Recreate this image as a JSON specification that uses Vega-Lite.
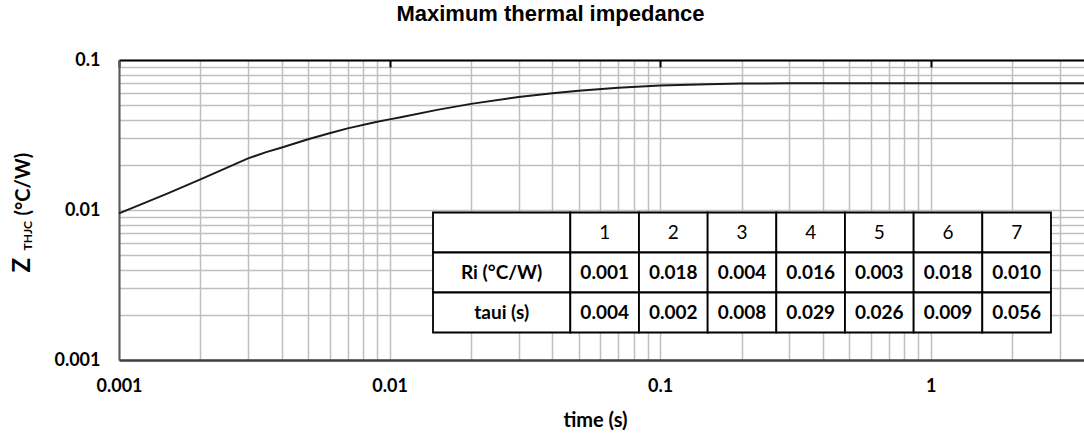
{
  "$schema": "https://vega.github.io/schema/vega-lite/v6.json",
  "width": 965,
  "height": 300,
  "autosize": {"type": "none"},
  "padding": {"left": 119, "top": 60, "right": 0, "bottom": 78},
  "background": "white",
  "config": {"view": {"stroke": null}, "font": "Lato"},
  "title": {"text": "Maximum thermal impedance", "font": "Liberation Sans", "fontSize": 22, "fontWeight": "bold", "color": "#000000", "anchor": "middle", "frame": "group", "dx": -51, "offset": 8, "baseline": "alphabetic"},
  "datasets": {
    "curve": [
      {"t": 0.001, "z": 0.0095},
      {"t": 0.0015, "z": 0.0128},
      {"t": 0.002, "z": 0.0160},
      {"t": 0.003, "z": 0.0221},
      {"t": 0.0035, "z": 0.0243},
      {"t": 0.004, "z": 0.0261},
      {"t": 0.005, "z": 0.0296},
      {"t": 0.006, "z": 0.0325},
      {"t": 0.007, "z": 0.0350},
      {"t": 0.009, "z": 0.0388},
      {"t": 0.01, "z": 0.0402},
      {"t": 0.011, "z": 0.0415},
      {"t": 0.015, "z": 0.0465},
      {"t": 0.02, "z": 0.0510},
      {"t": 0.03, "z": 0.0566},
      {"t": 0.04, "z": 0.0600},
      {"t": 0.05, "z": 0.0624},
      {"t": 0.07, "z": 0.0652},
      {"t": 0.1, "z": 0.0676},
      {"t": 0.15, "z": 0.0689},
      {"t": 0.2, "z": 0.0696},
      {"t": 0.3, "z": 0.0699},
      {"t": 0.5, "z": 0.0700},
      {"t": 1, "z": 0.0700},
      {"t": 3.69, "z": 0.0700}
    ],
    "cells": [
      {"c0": 0, "c1": 2, "cx": 1, "r0": 0, "r1": 1, "ry": 0.5, "text": "", "kind": "label"},
      {"c0": 2, "c1": 3, "cx": 2.5, "r0": 0, "r1": 1, "ry": 0.5, "text": "1", "kind": "header"},
      {"c0": 3, "c1": 4, "cx": 3.5, "r0": 0, "r1": 1, "ry": 0.5, "text": "2", "kind": "header"},
      {"c0": 4, "c1": 5, "cx": 4.5, "r0": 0, "r1": 1, "ry": 0.5, "text": "3", "kind": "header"},
      {"c0": 5, "c1": 6, "cx": 5.5, "r0": 0, "r1": 1, "ry": 0.5, "text": "4", "kind": "header"},
      {"c0": 6, "c1": 7, "cx": 6.5, "r0": 0, "r1": 1, "ry": 0.5, "text": "5", "kind": "header"},
      {"c0": 7, "c1": 8, "cx": 7.5, "r0": 0, "r1": 1, "ry": 0.5, "text": "6", "kind": "header"},
      {"c0": 8, "c1": 9, "cx": 8.5, "r0": 0, "r1": 1, "ry": 0.5, "text": "7", "kind": "header"},
      {"c0": 0, "c1": 2, "cx": 1, "r0": 1, "r1": 2, "ry": 1.5, "text": "Ri (°C/W)", "kind": "label"},
      {"c0": 2, "c1": 3, "cx": 2.5, "r0": 1, "r1": 2, "ry": 1.5, "text": "0.001", "kind": "value"},
      {"c0": 3, "c1": 4, "cx": 3.5, "r0": 1, "r1": 2, "ry": 1.5, "text": "0.018", "kind": "value"},
      {"c0": 4, "c1": 5, "cx": 4.5, "r0": 1, "r1": 2, "ry": 1.5, "text": "0.004", "kind": "value"},
      {"c0": 5, "c1": 6, "cx": 5.5, "r0": 1, "r1": 2, "ry": 1.5, "text": "0.016", "kind": "value"},
      {"c0": 6, "c1": 7, "cx": 6.5, "r0": 1, "r1": 2, "ry": 1.5, "text": "0.003", "kind": "value"},
      {"c0": 7, "c1": 8, "cx": 7.5, "r0": 1, "r1": 2, "ry": 1.5, "text": "0.018", "kind": "value"},
      {"c0": 8, "c1": 9, "cx": 8.5, "r0": 1, "r1": 2, "ry": 1.5, "text": "0.010", "kind": "value"},
      {"c0": 0, "c1": 2, "cx": 1, "r0": 2, "r1": 3, "ry": 2.5, "text": "taui (s)", "kind": "label"},
      {"c0": 2, "c1": 3, "cx": 2.5, "r0": 2, "r1": 3, "ry": 2.5, "text": "0.004", "kind": "value"},
      {"c0": 3, "c1": 4, "cx": 3.5, "r0": 2, "r1": 3, "ry": 2.5, "text": "0.002", "kind": "value"},
      {"c0": 4, "c1": 5, "cx": 4.5, "r0": 2, "r1": 3, "ry": 2.5, "text": "0.008", "kind": "value"},
      {"c0": 5, "c1": 6, "cx": 5.5, "r0": 2, "r1": 3, "ry": 2.5, "text": "0.029", "kind": "value"},
      {"c0": 6, "c1": 7, "cx": 6.5, "r0": 2, "r1": 3, "ry": 2.5, "text": "0.026", "kind": "value"},
      {"c0": 7, "c1": 8, "cx": 7.5, "r0": 2, "r1": 3, "ry": 2.5, "text": "0.009", "kind": "value"},
      {"c0": 8, "c1": 9, "cx": 8.5, "r0": 2, "r1": 3, "ry": 2.5, "text": "0.056", "kind": "value"}
    ]
  },
  "layer": [
    {
      "data": {"name": "curve"},
      "mark": {"type": "line", "color": "#1a1a1a", "strokeWidth": 2},
      "encoding": {
        "x": {"field": "t", "type": "quantitative",
          "scale": {"type": "log", "domain": [0.001, 3.69], "nice": false},
          "axis": {"orient": "bottom",
            "values": [0.001,0.002,0.003,0.004,0.005,0.006,0.007,0.008,0.009,0.01,0.02,0.03,0.04,0.05,0.06,0.07,0.08,0.09,0.1,0.2,0.3,0.4,0.5,0.6,0.7,0.8,0.9,1,2,3],
            "grid": true, "gridColor": "#bfbfbf", "gridWidth": 1.5,
            "ticks": false, "tickSize": 0,
            "domain": true, "domainColor": "#404040", "domainWidth": 2.5,
            "labelExpr": "abs(log(datum.value)/LN10 - round(log(datum.value)/LN10)) < 0.001 ? format(datum.value, '~g') : ''",
            "labelFont": "Lato", "labelFontSize": 18, "labelFontWeight": "bold", "labelColor": "#000000",
            "labelPadding": 17, "labelBaseline": "top", "labelFlush": false, "labelOverlap": false, "labelBound": false,
            "title": "time (s)", "titleFont": "Lato", "titleFontSize": 20, "titleFontWeight": "bold", "titleColor": "#000000",
            "titleX": 476, "titleY": 66, "titleBaseline": "alphabetic", "titleAlign": "center", "titleAnchor": null}
        },
        "y": {"field": "z", "type": "quantitative",
          "scale": {"type": "log", "domain": [0.001, 0.1], "nice": false},
          "axis": {"orient": "left",
            "values": [0.001,0.002,0.003,0.004,0.005,0.006,0.007,0.008,0.009,0.01,0.02,0.03,0.04,0.05,0.06,0.07,0.08,0.09,0.1],
            "grid": true, "gridColor": "#bfbfbf", "gridWidth": 1.5,
            "ticks": false, "tickSize": 0,
            "domain": true, "domainColor": "#595959", "domainWidth": 2,
            "labelExpr": "abs(log(datum.value)/LN10 - round(log(datum.value)/LN10)) < 0.001 ? format(datum.value, '~g') : ''",
            "labelFont": "Lato", "labelFontSize": 18, "labelFontWeight": "bold", "labelColor": "#000000",
            "labelPadding": 19, "labelFlush": false, "labelOverlap": false, "labelBound": false,
            "title": "Z", "titleFont": "Lato", "titleFontSize": 24, "titleFontWeight": "bold", "titleColor": "#000000",
            "titleX": -90, "titleY": 212, "titleAngle": -90, "titleAlign": "left", "titleBaseline": "alphabetic"}
        }
      }
    },
    {
      "data": {"name": "curve"},
      "mark": {"type": "line", "opacity": 0},
      "encoding": {
        "x": {"field": "t", "type": "quantitative",
          "scale": {"type": "log", "domain": [0.001, 3.69], "nice": false},
          "axis": {"orient": "top", "values": [0.001, 0.01, 0.1, 1],
            "labels": false, "grid": false, "ticks": true, "tickSize": -7, "tickColor": "#000000", "tickWidth": 2,
            "domain": true, "domainColor": "#000000", "domainWidth": 2, "title": null}
        },
        "y": {"field": "z", "type": "quantitative",
          "scale": {"type": "log", "domain": [0.001, 0.1], "nice": false},
          "axis": {"orient": "left", "labels": false, "ticks": false, "domain": false, "grid": false,
            "title": "THJC", "titleFont": "Lato", "titleFontSize": 12, "titleFontWeight": "bold", "titleColor": "#000000",
            "titleX": -88, "titleY": 190, "titleAngle": -90, "titleAlign": "left", "titleBaseline": "alphabetic"}
        }
      }
    },
    {
      "data": {"name": "curve"},
      "mark": {"type": "line", "opacity": 0},
      "encoding": {
        "x": {"field": "t", "type": "quantitative",
          "scale": {"type": "log", "domain": [0.001, 3.69], "nice": false}, "axis": null},
        "y": {"field": "z", "type": "quantitative",
          "scale": {"type": "log", "domain": [0.001, 0.1], "nice": false},
          "axis": {"orient": "left", "labels": false, "ticks": false, "domain": false, "grid": false,
            "title": "(°C/W)", "titleFont": "Lato", "titleFontSize": 20, "titleFontWeight": "bold", "titleColor": "#000000",
            "titleX": -90, "titleY": 155, "titleAngle": -90, "titleAlign": "left", "titleBaseline": "alphabetic"}
        }
      }
    },
    {
      "data": {"name": "cells"},
      "mark": {"type": "rect", "fill": "#ffffff", "stroke": "#000000", "strokeWidth": 1.8},
      "encoding": {
        "x": {"field": "c0", "type": "quantitative", "scale": {"domain": [-4.573, 9.481], "nice": false, "zero": false}, "axis": null},
        "x2": {"field": "c1"},
        "y": {"field": "r0", "type": "quantitative", "scale": {"domain": [-3.8125, 3.6875], "reverse": true, "nice": false, "zero": false}, "axis": null},
        "y2": {"field": "r1"}
      }
    },
    {
      "data": {"name": "cells"},
      "transform": [{"filter": "datum.kind == 'header'"}],
      "mark": {"type": "text", "font": "Lato", "fontSize": 19, "color": "#000000"},
      "encoding": {
        "x": {"field": "cx", "type": "quantitative", "scale": {"domain": [-4.573, 9.481], "nice": false, "zero": false}, "axis": null},
        "y": {"field": "ry", "type": "quantitative", "scale": {"domain": [-3.8125, 3.6875], "reverse": true, "nice": false, "zero": false}, "axis": null},
        "text": {"field": "text"}
      }
    },
    {
      "data": {"name": "cells"},
      "transform": [{"filter": "datum.kind != 'header'"}],
      "mark": {"type": "text", "font": "Lato", "fontSize": 19, "fontWeight": "bold", "color": "#000000"},
      "encoding": {
        "x": {"field": "cx", "type": "quantitative", "scale": {"domain": [-4.573, 9.481], "nice": false, "zero": false}, "axis": null},
        "y": {"field": "ry", "type": "quantitative", "scale": {"domain": [-3.8125, 3.6875], "reverse": true, "nice": false, "zero": false}, "axis": null},
        "text": {"field": "text"}
      }
    }
  ],
  "resolve": {
    "scale": {"x": "independent", "y": "independent"},
    "axis": {"x": "independent", "y": "independent"}
  }
}
